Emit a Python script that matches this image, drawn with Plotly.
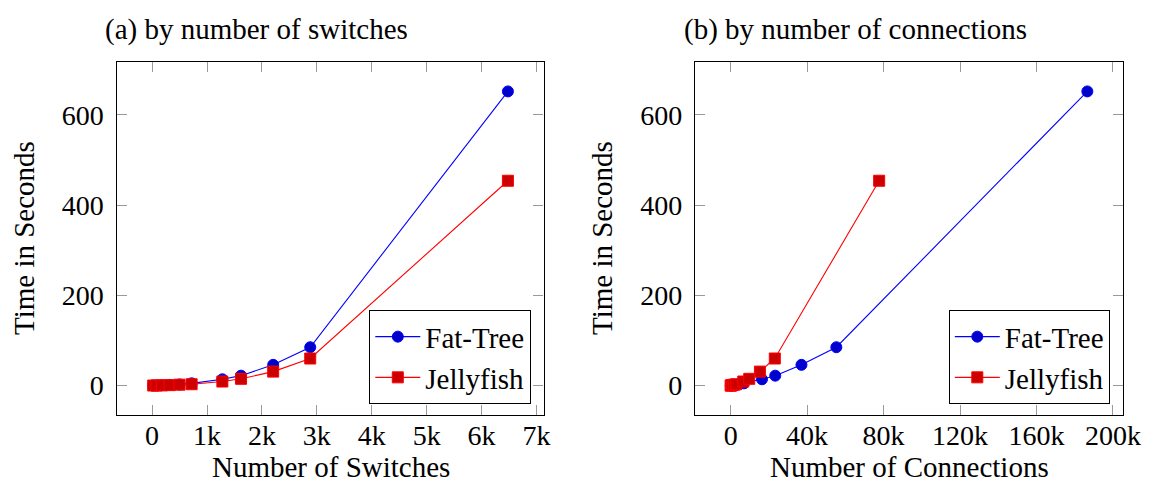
import plotly.graph_objects as go

# ---- data ----
fat_switches = [20, 80, 180, 320, 500, 720, 1280, 1620, 2205, 2880, 6480]
fat_connections = [32, 256, 864, 2048, 4000, 6912, 16384, 23328, 37044, 55296, 186624]
fat_time = [0.1, 0.3, 0.8, 1.5, 2.5, 5, 14, 22, 46, 85, 652]

jelly_switches = [20, 80, 180, 320, 500, 720, 1280, 1620, 2205, 2880, 6480]
jelly_connections = [20, 120, 360, 850, 1700, 2880, 6600, 9720, 15300, 23100, 77700]
jelly_time = [0.1, 0.2, 0.5, 1, 2, 3, 9, 15, 31, 60, 454]

xticks_a = [0, 1000, 2000, 3000, 4000, 5000, 6000, 7000]
xticklabels_a = ["0", "1k", "2k", "3k", "4k", "5k", "6k", "7k"]
xticks_b = [0, 40000, 80000, 120000, 160000, 200000]
xticklabels_b = ["0", "40k", "80k", "120k", "160k", "200k"]
yticks = [0, 200, 400, 600]

series_names = ["Fat-Tree", "Jellyfish"]

# ---- layout geometry (pixels) ----
W, H = 1151, 493
FONT = "Liberation Serif"
FS = 29
TFS = 28


def px_x(v):
    return v / W


def px_y(v):
    return 1 - v / H


dom_ax = [px_x(116.5), px_x(543.5)]
dom_bx = [px_x(695), px_x(1123)]
dom_y = [px_y(415), px_y(62)]

blue_line = "#0000ff"
blue_fill = "#0000cc"
red_line = "#ff0000"
red_fill = "#cc0000"

fig = go.Figure()


def add_series(x, y, name, xa, ya, legend, line_c, fill_c, symbol, size):
    fig.add_trace(go.Scatter(
        x=x, y=y, name=name, mode="lines+markers",
        xaxis=xa, yaxis=ya, legend=legend,
        line=dict(color=line_c, width=1.1),
        marker=dict(symbol=symbol, size=size, color=fill_c,
                    line=dict(color=line_c, width=1)),
    ))


add_series(fat_switches, fat_time, series_names[0], "x", "y", "legend",
           blue_line, blue_fill, "circle", 11)
add_series(jelly_switches, jelly_time, series_names[1], "x", "y", "legend",
           red_line, red_fill, "square", 11)
add_series(fat_connections, fat_time, series_names[0], "x2", "y2", "legend2",
           blue_line, blue_fill, "circle", 11)
add_series(jelly_connections, jelly_time, series_names[1], "x2", "y2", "legend2",
           red_line, red_fill, "square", 11)

tickfont = dict(family=FONT, size=TFS, color="black")


def xaxis(domain, rng, tv, tt, anchor):
    return dict(domain=domain, range=rng, anchor=anchor,
                tickmode="array", tickvals=tv, ticktext=tt,
                ticks="inside", ticklen=10, tickwidth=1.2, tickcolor="#9a9a9a",
                showline=True, linecolor="black", linewidth=1.3, mirror="ticks",
                showgrid=False, zeroline=False, tickfont=tickfont,
                ticklabelstandoff=-5, automargin=False)


def yaxis(domain, rng, anchor):
    return dict(domain=domain, range=rng, anchor=anchor,
                tickmode="array", tickvals=yticks,
                ticks="inside", ticklen=10, tickwidth=1.2, tickcolor="#9a9a9a",
                showline=True, linecolor="black", linewidth=1.3, mirror="ticks",
                showgrid=False, zeroline=False, tickfont=tickfont,
                ticklabelstandoff=6, automargin=False)


yr = [-65.2, 717.2]
legend_common = dict(xanchor="right", yanchor="bottom",
                     bgcolor="white", bordercolor="black", borderwidth=1.3,
                     font=dict(family=FONT, size=FS, color="black"),
                     tracegroupgap=0, itemwidth=45)
fig.update_layout(
    width=W, height=H,
    margin=dict(l=0, r=0, t=0, b=0),
    paper_bgcolor="white", plot_bgcolor="white",
    xaxis=xaxis(dom_ax, [-648, 7128], xticks_a, xticklabels_a, "y"),
    yaxis=yaxis(dom_y, yr, "x"),
    xaxis2=xaxis(dom_bx, [-18662, 205286], xticks_b, xticklabels_b, "y2"),
    yaxis2=yaxis(dom_y, yr, "x2"),
    legend=dict(x=px_x(531), y=px_y(404), **legend_common),
    legend2=dict(x=px_x(1110.5), y=px_y(404), **legend_common),
    showlegend=True,
)

annots = [
    dict(text="(a) by number of switches", x=256.5, y=29, angle=0),
    dict(text="(b) by number of connections", x=855, y=29, angle=0),
    dict(text="Number of Switches", x=331, y=467, angle=0),
    dict(text="Number of Connections", x=909, y=467, angle=0),
    dict(text="Time in Seconds", x=24, y=238, angle=-90),
    dict(text="Time in Seconds", x=602, y=238, angle=-90),
]
for a in annots:
    fig.add_annotation(text=a["text"], x=px_x(a["x"]), y=px_y(a["y"]),
                       xref="paper", yref="paper", xanchor="center", yanchor="middle",
                       textangle=a["angle"], showarrow=False,
                       font=dict(family=FONT, size=FS, color="black"))

fig.write_html("out.html")
